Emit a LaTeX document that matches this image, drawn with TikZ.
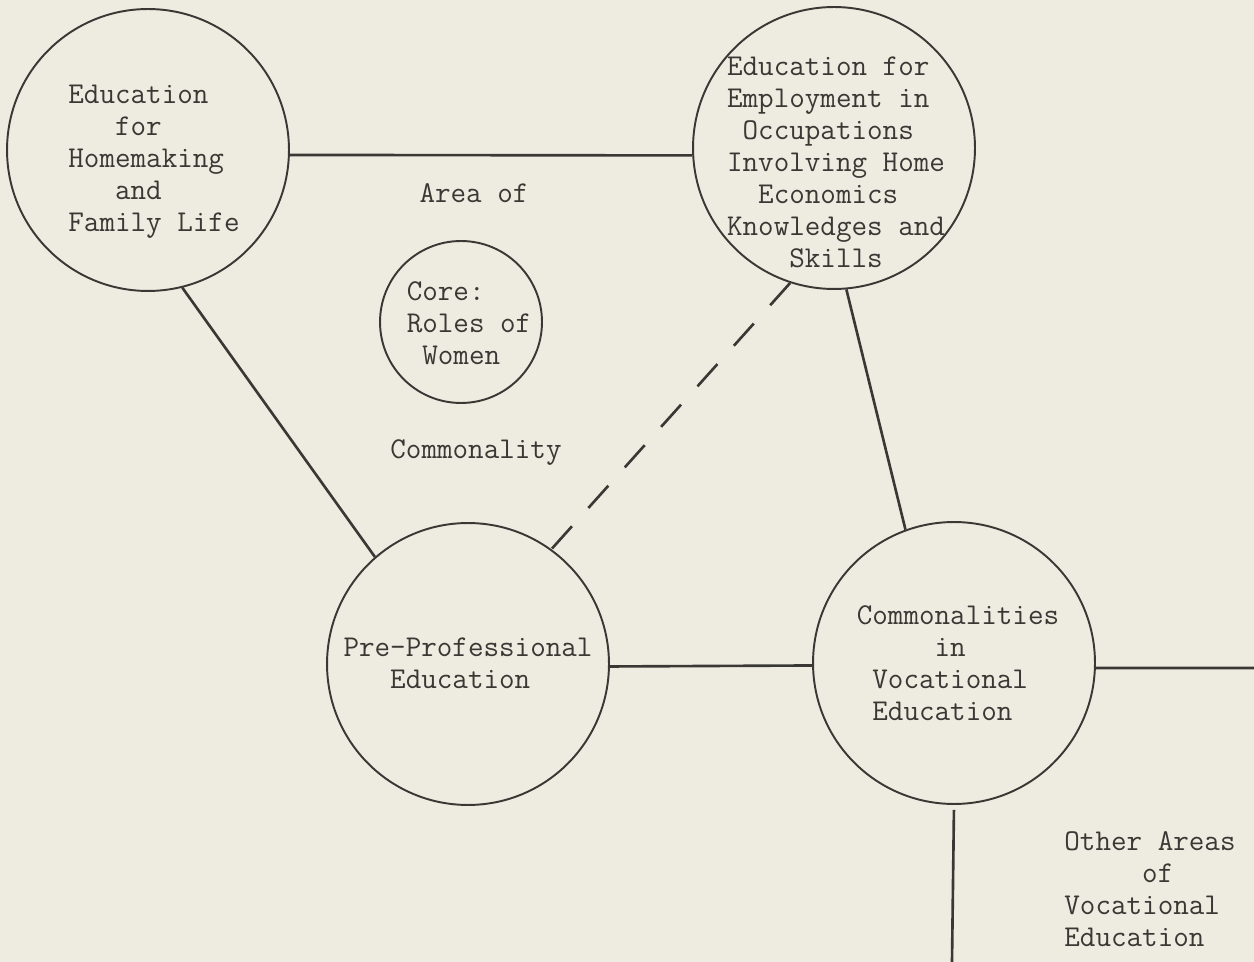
\documentclass[tikz,border=0pt]{standalone}
\usepackage{fontspec}
\usepackage{tikz}
\usetikzlibrary{positioning}
\definecolor{paper}{RGB}{238,236,224}
\definecolor{ink}{RGB}{58,56,52}

\begin{document}
\begin{tikzpicture}[x=0.02cm, y=-0.02cm,
	bigcirc/.style={circle, draw=ink, line width=1.1pt, minimum size=5.64cm, inner sep=0},
	smallcirc/.style={circle, draw=ink, line width=1.1pt, minimum size=3.24cm, inner sep=0},
	txt/.style={text=ink, align=left, inner sep=0, font=\fontsize{17.2}{18.2}\selectfont\ttfamily},
	conn/.style={draw=ink, line width=1.5pt}]
\path[use as bounding box, fill=paper] (0,0) rectangle (1254,962);
% circles
\node[bigcirc] (home) at (148,150) {};
\node[bigcirc] (emp) at (834,148) {};
\node[smallcirc] (core) at (461,322) {};
\node[bigcirc] (pre) at (468,664) {};
\node[bigcirc] (com) at (954,663) {};
% texts
\node[txt] (homet) at (154,162) {Education\\\phantom{xxx}for\\Homemaking\\\phantom{xxx}and\\Family Life};
\node[txt] (empt) at (836,162) {Education for\\Employment in\\\phantom{x}Occupations\\Involving Home\\\phantom{xx}Economics\\Knowledges and\\\phantom{xxxx}Skills};
\node[txt] (coret) at (469,323) {Core:\\Roles of\\\phantom{x}Women};
\node[txt] (pret) at (468,663) {Pre-Professional\\\phantom{xxx}Education};
\node[txt] (comt) at (958,663) {Commonalities\\\phantom{xxxxx}in\\\phantom{x}Vocational\\\phantom{x}Education};
\node[txt] (area) at (474,193) {Area of};
\node[txt] (common) at (476,453) {Commonality};
\node[txt] (other) at (1150,889) {Other Areas\\\phantom{xxxxx}of\\Vocational\\Education};
% connectors
\coordinate (rend) at (1254,668);
\coordinate (bend) at (952,962);
\path[conn]
	(home.-2) edge (emp.183)
	(home.-76) edge (pre.131)
	(emp.-85) edge (com.110)
	(pre.-1) edge (com.181)
	(com.-2) edge (rend);
\draw[conn, shorten <=0.1cm] (com.-90) -- (bend);
\draw[conn, dash pattern=on 17pt off 14pt] (emp.-108) -- (pre.54);
\end{tikzpicture}
\end{document}
